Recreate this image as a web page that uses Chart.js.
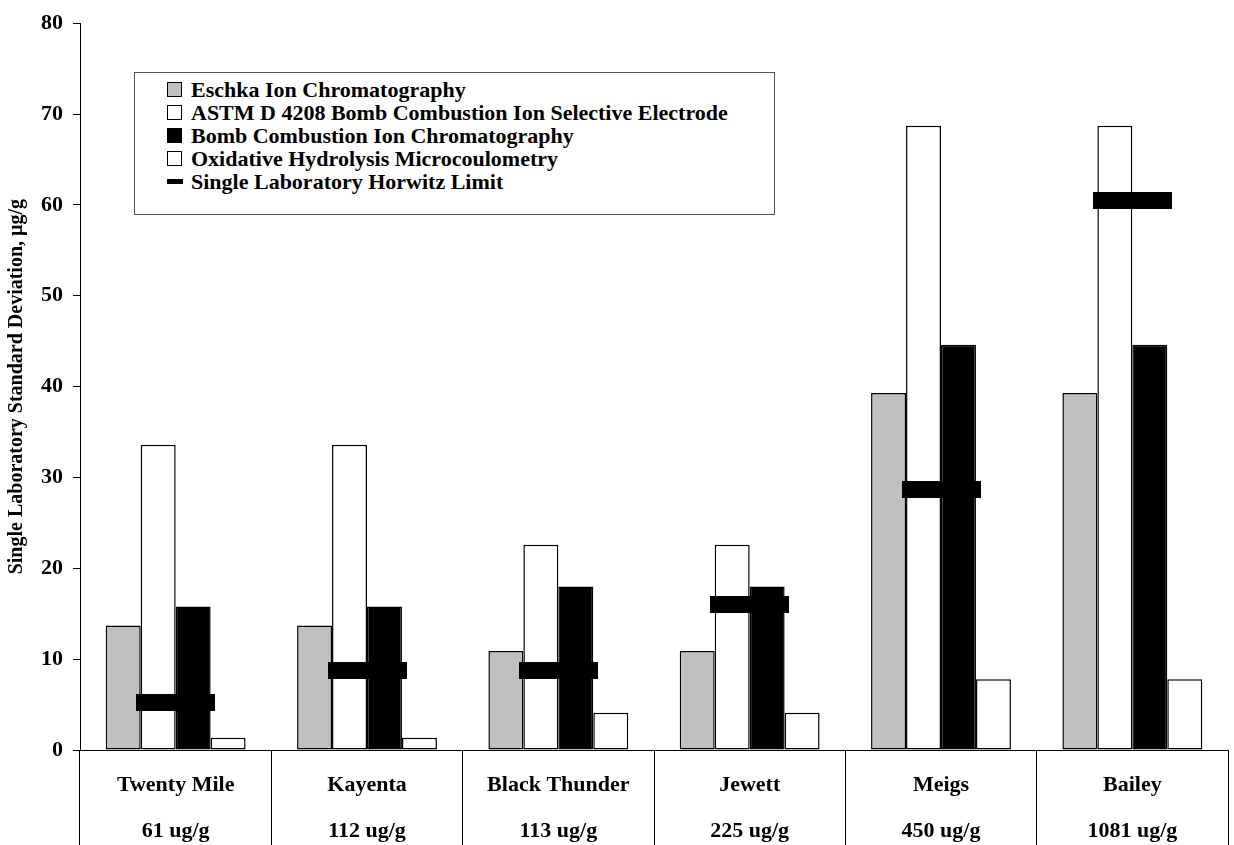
<!DOCTYPE html>
<html>
<head>
<meta charset="utf-8">
<script src="https://cdn.jsdelivr.net/npm/chart.js@4"></script>
<style>
  body { margin: 0; background: #fff; }
  #wrap { position: relative; width: 1234px; height: 845px; }
  #legendBox {
    position: absolute; left: 134px; top: 72px; width: 639px; height: 136px;
    border: 1px solid #555; background: #fff;
    font: bold 22px "Liberation Serif", "Times New Roman", serif; color: #000;
    padding-top: 5px; box-sizing: content-box;
  }
  .row { height: 23px; line-height: 23px; white-space: nowrap; position: relative; padding-left: 56px; }
  .sw { position: absolute; left: 32px; top: 4px; width: 13px; height: 13px; border: 1.5px solid #000; }
  .dash { position: absolute; left: 32px; top: 9px; width: 16px; height: 5px; background: #000; }
</style>
</head>
<body>
<div id="wrap">
  <canvas id="chart" width="1234" height="845"></canvas>
  <div id="legendBox"></div>
</div>
<script>
let categories = ['Twenty Mile', 'Kayenta', 'Black Thunder', 'Jewett', 'Meigs', 'Bailey'];
let concentrations = ['61 ug/g', '112 ug/g', '113 ug/g', '225 ug/g', '450 ug/g', '1081 ug/g'];

let eschka = [13.7, 13.7, 10.9, 10.9, 39.3, 39.3];
let astmBombISE = [33.6, 33.6, 22.6, 22.6, 68.7, 68.7];
let bombIC = [15.8, 15.8, 18.0, 18.0, 44.6, 44.6];
let oxidative = [1.35, 1.35, 4.1, 4.1, 7.8, 7.8];
let horwitz = [5.2, 8.8, 8.8, 16.0, 28.7, 60.5];

let yTicks = [0, 10, 20, 30, 40, 50, 60, 70, 80];

const fontFamily = '"Liberation Serif", "Times New Roman", serif';

// thick horizontal marker used for the Horwitz limit
let marker = document.createElement('canvas');
marker.width = 79;
marker.height = 17;
let mctx = marker.getContext('2d');
mctx.fillStyle = '#000';
mctx.fillRect(0, 0, 79, 17);

let labels = categories.map((c, i) => [c, concentrations[i]]);

function barSet(label, data, fill) {
    return {
        type: 'bar',
        label: label,
        data: data,
        backgroundColor: fill,
        borderColor: '#000',
        borderWidth: 1.5,
        borderSkipped: false,
        order: 1
    };
}

let datasets = [
    barSet('Eschka Ion Chromatography', eschka, '#c0c0c0'),
    barSet('ASTM D 4208 Bomb Combustion Ion Selective Electrode', astmBombISE, '#ffffff'),
    barSet('Bomb Combustion Ion Chromatography', bombIC, '#000000'),
    barSet('Oxidative Hydrolysis Microcoulometry', oxidative, '#ffffff'),
    {
        type: 'line',
        label: 'Single Laboratory Horwitz Limit',
        data: horwitz,
        showLine: false,
        pointStyle: marker,
        pointRadius: 5,
        order: 0
    }
];

// legend in a box inside the plot, as in the original
let legendBox = document.getElementById('legendBox');
datasets.forEach(ds => {
    let row = document.createElement('div');
    row.className = 'row';
    let mark = document.createElement('span');
    if (ds.type === 'line') {
        mark.className = 'dash';
    } else {
        mark.className = 'sw';
        mark.style.background = ds.backgroundColor;
    }
    row.appendChild(mark);
    row.appendChild(document.createTextNode(ds.label));
    legendBox.appendChild(row);
});

let ctx = document.getElementById('chart').getContext('2d');
let chart = new Chart(ctx, {
    type: 'bar',
    data: { labels: labels, datasets: datasets },
    options: {
        responsive: false,
        animation: false,
        events: [],
        layout: { padding: { top: 16, right: 0, bottom: 0, left: 0 } },
        datasets: {
            bar: { barPercentage: 1.0, categoryPercentage: 0.731 }
        },
        plugins: {
            legend: { display: false },
            tooltip: { enabled: false }
        },
        scales: {
            x: {
                offset: true,
                grid: {
                    offset: true,
                    drawOnChartArea: false,
                    drawTicks: true,
                    tickLength: 96,
                    color: '#000',
                    lineWidth: 1
                },
                border: { color: '#000', width: 1 },
                ticks: {
                    color: '#000',
                    padding: -84,
                    maxRotation: 0,
                    autoSkip: false,
                    font: { family: fontFamily, size: 22, weight: 'bold', lineHeight: 2.1 }
                },
                afterFit: scale => { scale.height = 95; }
            },
            y: {
                min: 0,
                max: 80,
                afterBuildTicks: scale => { scale.ticks = yTicks.map(v => ({ value: v })); },
                grid: {
                    drawOnChartArea: false,
                    drawTicks: true,
                    tickLength: 7,
                    color: '#000'
                },
                border: { color: '#000', width: 1 },
                ticks: {
                    color: '#000',
                    padding: 10,
                    font: { family: fontFamily, size: 22, weight: 'bold' }
                },
                title: {
                    display: true,
                    text: 'Single Laboratory Standard Deviation, µg/g',
                    color: '#000',
                    padding: { top: 5, bottom: 0 },
                    font: { family: fontFamily, size: 20, weight: 'bold' }
                },
                afterFit: scale => { scale.width = 80; }
            }
        }
    }
});
</script>
</body>
</html>
